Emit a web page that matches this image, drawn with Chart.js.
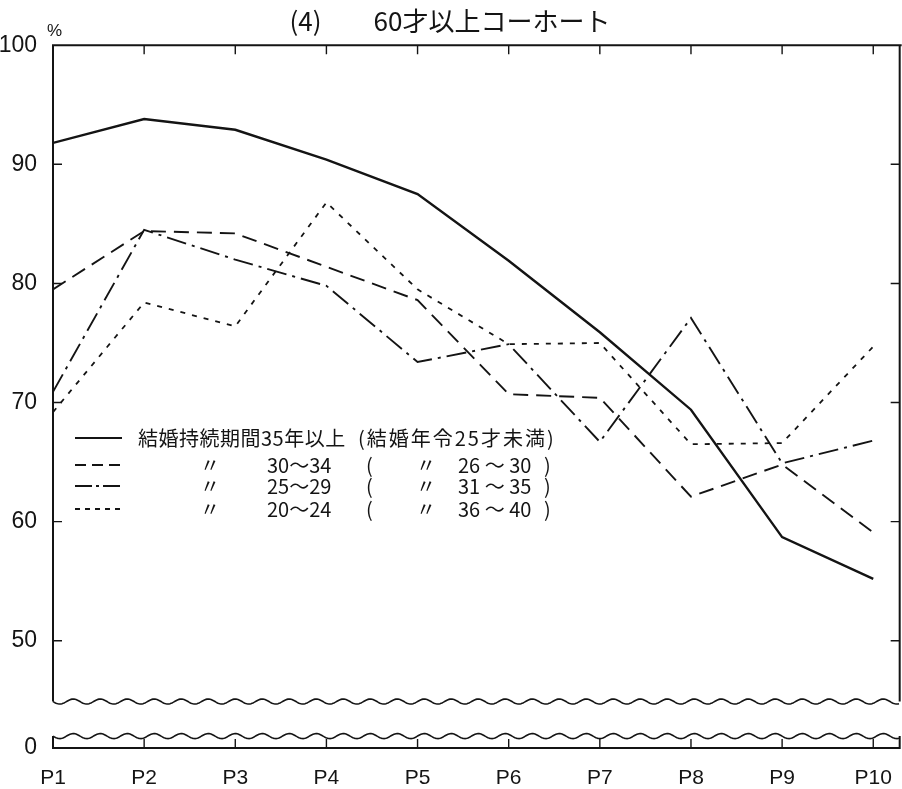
<!DOCTYPE html>
<html>
<head>
<meta charset="utf-8">
<script src="https://cdn.jsdelivr.net/npm/chart.js@4.4.1/dist/chart.umd.min.js"></script>
<style>
  html, body { margin: 0; padding: 0; background: #fff; }
  #wrap { width: 902px; height: 789px; }
</style>
</head>
<body>
<div id="wrap"><canvas id="cohort"></canvas></div>
<script>
// periods along the bottom
const periods = ['P1', 'P2', 'P3', 'P4', 'P5', 'P6', 'P7', 'P8', 'P9', 'P10'];

// % by marriage duration
const dur35 = [91.8, 93.8, 92.9, 90.4, 87.5, 81.9, 75.9, 69.4, 58.7, 55.2];
const dur30 = [79.5, 84.4, 84.2, 81.4, 78.6, 70.7, 70.4, 62.1, 64.8, 59.1];
const dur25 = [70.9, 84.5, 82.0, 79.8, 73.4, 74.9, 66.7, 77.1, 64.9, 66.8];
const dur20 = [69.2, 78.4, 76.4, 86.8, 79.5, 74.9, 75.0, 66.5, 66.6, 74.7];

// y axis is broken below 50: the base line (41 on the scale) is labelled 0
const yTicks = [41, 50, 60, 70, 80, 90, 100];
const yTickLabels = ['0', '50', '60', '70', '80', '90', '100'];
const breakMarks = [44.9, 42.0];

const titleText = '(4)　　60才以上コーホート';
const legendMain = ['結婚持続期間35年以上', '(結婚年令25才未満)'];
const durRanges = ['30～34', '25～29', '20～24'];
const ageRanges = ['26 ～ 30', '31 ～ 35', '36 ～ 40'];

const ink = '#141414';
const cjk = '"Noto Sans CJK JP", "Noto Sans", sans-serif';
const num = '"Liberation Sans", Arial, sans-serif';

const dashes = [[], [15, 8], [20, 6, 3, 6], [5, 7]];
const legendDashes = [[], [11, 6], [17, 4, 3, 4], [5, 5]];

function pts(arr) {
    return arr.map((v, i) => ({ x: i + 1, y: v }));
}

const frame = {
    id: 'frame',
    beforeDraw(chart) {
        const c = chart.ctx;
        c.save();
        c.fillStyle = '#fff';
        c.fillRect(0, 0, chart.width, chart.height);
        c.restore();
    },
    afterDatasetsDraw(chart) {
        const ctx = chart.ctx;
        const a = chart.chartArea;
        const x = chart.scales.x;
        const y = chart.scales.y;
        const upper = y.getPixelForValue(breakMarks[0]);
        const lower = y.getPixelForValue(breakMarks[1]);
        ctx.save();
        ctx.strokeStyle = ink;
        ctx.lineWidth = 2;
        ctx.beginPath();
        ctx.moveTo(a.left, upper);
        ctx.lineTo(a.left, a.top);
        ctx.lineTo(a.right + 2, a.top);
        ctx.moveTo(a.right, a.top);
        ctx.lineTo(a.right, upper);
        ctx.moveTo(a.left, lower);
        ctx.lineTo(a.left, a.bottom);
        ctx.lineTo(a.right, a.bottom);
        ctx.lineTo(a.right, lower);
        ctx.stroke();

        // wavy break lines
        ctx.lineWidth = 1.6;
        [upper, lower].forEach(yy => {
            ctx.beginPath();
            for (let px = a.left; px <= a.right; px += 1) {
                const wy = yy + 2.5 * Math.sin((px - a.left) / 27 * 2 * Math.PI);
                if (px === a.left) ctx.moveTo(px, wy); else ctx.lineTo(px, wy);
            }
            ctx.stroke();
        });

        // inward ticks
        ctx.lineWidth = 1.4;
        ctx.beginPath();
        x.ticks.forEach((t, i) => {
            if (i === 0) return;
            const px = x.getPixelForValue(t.value);
            ctx.moveTo(px, a.top);
            ctx.lineTo(px, a.top + 9);
            ctx.moveTo(px, a.bottom);
            ctx.lineTo(px, a.bottom - 9);
        });
        y.ticks.forEach(t => {
            if (t.value <= 41 || t.value >= 100) return;
            const py = y.getPixelForValue(t.value);
            ctx.moveTo(a.left, py);
            ctx.lineTo(a.left + 9, py);
            ctx.moveTo(a.right, py);
            ctx.lineTo(a.right - 9, py);
        });
        ctx.stroke();

        // % sign next to 100
        ctx.fillStyle = ink;
        ctx.font = '17px ' + num;
        ctx.textBaseline = 'middle';
        ctx.textAlign = 'left';
        ctx.fillText('%', a.left - 6, a.top - 14);

        // legend
        const rowY = [438, 465, 486, 509];
        chart.data.datasets.forEach((ds, i) => {
            ctx.beginPath();
            ctx.lineWidth = i === 0 ? 2.2 : 1.8;
            ctx.setLineDash(legendDashes[i]);
            ctx.moveTo(75, rowY[i]);
            ctx.lineTo(122, rowY[i]);
            ctx.stroke();
        });
        ctx.setLineDash([]);
        ctx.font = '20px ' + cjk;
        ctx.letterSpacing = '0.5px';
        ctx.fillText(legendMain[0], 138, rowY[0]);
        ctx.letterSpacing = '2px';
        ctx.fillText(legendMain[1], 358, rowY[0]);
        ctx.letterSpacing = '0px';
        for (let r = 0; r < 3; r++) {
            const yy = rowY[r + 1];
            ctx.fillText('〃', 200, yy);
            ctx.fillText(durRanges[r], 267, yy);
            ctx.fillText('(', 366, yy);
            ctx.fillText('〃', 416, yy);
            ctx.fillText(ageRanges[r], 458, yy);
            ctx.fillText(')', 544, yy);
        }
        ctx.restore();
    }
};

const chart = new Chart(document.getElementById('cohort'), {
    type: 'line',
    data: {
        datasets: [
            { label: '35年以上', data: pts(dur35), borderWidth: 2.4 },
            { label: '30～34', data: pts(dur30), borderWidth: 1.9 },
            { label: '25～29', data: pts(dur25), borderWidth: 1.9 },
            { label: '20～24', data: pts(dur20), borderWidth: 1.8 }
        ].map((ds, i) => Object.assign(ds, {
            borderColor: ink,
            borderDash: dashes[i],
            pointRadius: 0,
            tension: 0,
            fill: false
        }))
    },
    options: {
        responsive: true,
        maintainAspectRatio: false,
        animation: false,
        layout: { padding: { right: 2 } },
        plugins: {
            legend: { display: false },
            tooltip: { enabled: false },
            title: {
                display: true,
                text: titleText,
                color: ink,
                font: { family: cjk, size: 26, weight: 'normal' },
                padding: { top: 6, bottom: 8 }
            }
        },
        scales: {
            x: {
                type: 'linear',
                min: 1,
                max: 10.29,
                afterBuildTicks: s => { s.ticks = periods.map((p, i) => ({ value: i + 1 })); },
                afterFit: s => { s.height = 41; },
                grid: { display: false },
                border: { display: false },
                ticks: {
                    autoSkip: false,
                    maxRotation: 0,
                    padding: 10,
                    color: ink,
                    font: { family: num, size: 21 },
                    callback: (v, i) => periods[i]
                }
            },
            y: {
                min: 41,
                max: 100,
                afterBuildTicks: s => { s.ticks = yTicks.map(v => ({ value: v })); },
                afterFit: s => { s.width = 53; },
                grid: { display: false },
                border: { display: false },
                ticks: {
                    padding: 8,
                    color: ink,
                    font: { family: num, size: 23 },
                    callback: (v, i) => yTickLabels[i]
                }
            }
        }
    },
    plugins: [frame]
});
</script>
</body>
</html>
